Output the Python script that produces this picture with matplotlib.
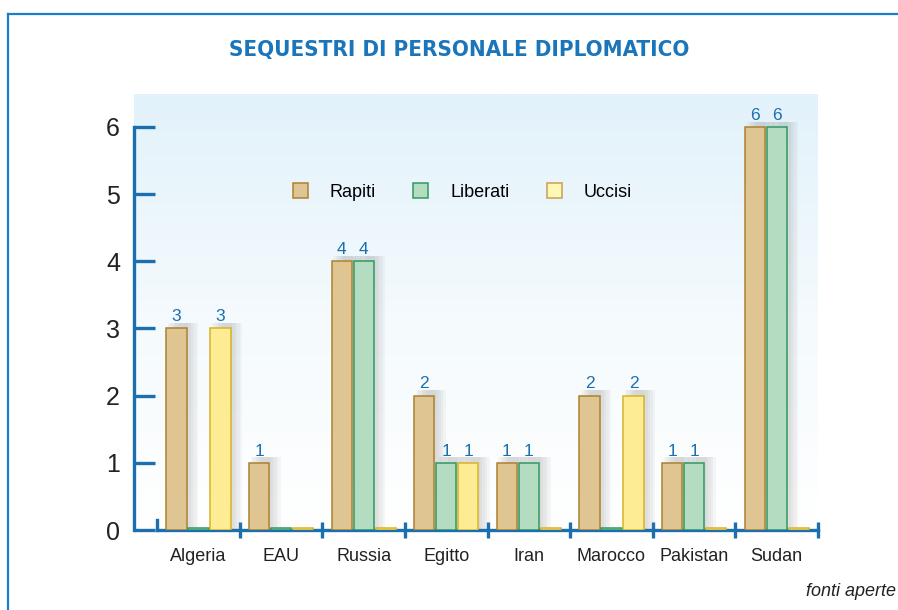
import numpy as np
import matplotlib.pyplot as plt
from matplotlib.patches import Patch
from matplotlib.lines import Line2D
from matplotlib.colors import LinearSegmentedColormap

plt.rcParams['font.family'] = ['Liberation Sans', 'DejaVu Sans']

categories = ['Algeria', 'EAU', 'Russia', 'Egitto', 'Iran', 'Marocco', 'Pakistan', 'Sudan']
rapiti = [3, 1, 4, 2, 1, 2, 1, 6]
liberati = [0, 0, 4, 1, 1, 0, 1, 6]
uccisi = [3, 0, 0, 1, 0, 2, 0, 0]
series_names = ['Rapiti', 'Liberati', 'Uccisi']
yticks = [0, 1, 2, 3, 4, 5, 6]

BLUE = '#1b6fae'
faces = ['#dfc592', '#b3dcc0', '#fdec94']
edges = ['#ad8030', '#2f9a60', '#d9b226']

fig = plt.figure(figsize=(8.98, 6.10), dpi=100)
ax = fig.add_axes([134 / 898, 80 / 610, 684 / 898, 436 / 610])
ymax = 436 / 67.17
ax.set_xlim(-0.28, 8)
ax.set_ylim(0, ymax)

# gradient background
grad = np.linspace(0, 1, 256).reshape(-1, 1)
cmap = LinearSegmentedColormap.from_list('bg', ['#ffffff', '#f4fafd', '#e2f2fa'])
ax.imshow(grad, cmap=cmap, aspect='auto', extent=[-0.28, 8, 0, ymax],
          origin='lower', zorder=0)

x = np.arange(len(categories)) + 0.5
w = 0.245
step = 0.266
data = [rapiti, liberati, uccisi]

for k, vals in enumerate(data):
    xs = x + (k - 1) * step
    h = np.array(vals, dtype=float)
    # soft shadow
    for off in [0.02, 0.05, 0.08, 0.11, 0.14]:
        sh = np.where(h > 0, h + 0.08, 0)
        ax.bar(xs + off, sh, w, color='#8a8a8a', alpha=0.07,
               linewidth=0, zorder=2)
    hh = np.where(h > 0, h, 0.035)
    ax.bar(xs, hh, w, color=faces[k], edgecolor=edges[k], linewidth=1.1, zorder=3)
    for xi, v in zip(xs, vals):
        if v > 0:
            ax.annotate(str(v), (xi, v), xytext=(0, 3), textcoords='offset points',
                        ha='center', va='bottom', color=BLUE, fontsize=12.5)

# axes styling
for s in ['top', 'right']:
    ax.spines[s].set_visible(False)
ax.spines['left'].set_bounds(0, 6)
ax.spines['bottom'].set_bounds(0, 8)
for s in ['left', 'bottom']:
    ax.spines[s].set_color(BLUE)
    ax.spines[s].set_linewidth(2.4)
ax.set_yticks(yticks)
ax.set_yticklabels([str(t) for t in yticks], fontsize=18, color='#222222')
ax.tick_params(axis='y', direction='in', length=15, width=2.4, color=BLUE, pad=10)
ax.set_xticks(np.arange(1, 9))
ax.set_xticklabels([])
ax.tick_params(axis='x', which='major', direction='inout', length=11, width=2.4, color=BLUE)
ax.set_xticks(x, minor=True)
ax.set_xticklabels(categories, minor=True, fontsize=13, color='#222222')
ax.tick_params(axis='x', which='minor', length=0, pad=13)
ax.plot([0, 0], [0, 0.15], color=BLUE, lw=2.4, clip_on=False, zorder=4)

# legend
handles = [Patch(facecolor=f, edgecolor=e, linewidth=1.1)
           for f, e in zip(['#dfc592', '#b3dcc0', '#fff7b5'], ['#ad8030', '#2f9a60', '#c9a050'])]
ax.legend(handles, series_names, loc='center', bbox_to_anchor=(0.480, 0.775), ncol=3,
          frameon=False, fontsize=13, handlelength=0.83, handleheight=0.83,
          handletextpad=1.2, columnspacing=2.1)

# title and notes
fig.text(459 / 898, 1 - 50 / 610, 'SEQUESTRI DI PERSONALE DIPLOMATICO',
         ha='center', va='center', fontsize=16, fontweight='bold', color='#1a75bb',
         family='DejaVu Sans', fontstretch='condensed')
fig.text(896 / 898, 1 - 592 / 610, 'fonti aperte', ha='right', va='center',
         fontsize=13, style='italic', color='#222222')

# frame
fig.add_artist(Line2D([8 / 898, 1], [1 - 14 / 610, 1 - 14 / 610], color='#1a7fc8', lw=1.6))
fig.add_artist(Line2D([8 / 898, 8 / 898], [0, 1 - 14 / 610], color='#1a7fc8', lw=1.6))

fig.savefig('out.png', dpi=100)
